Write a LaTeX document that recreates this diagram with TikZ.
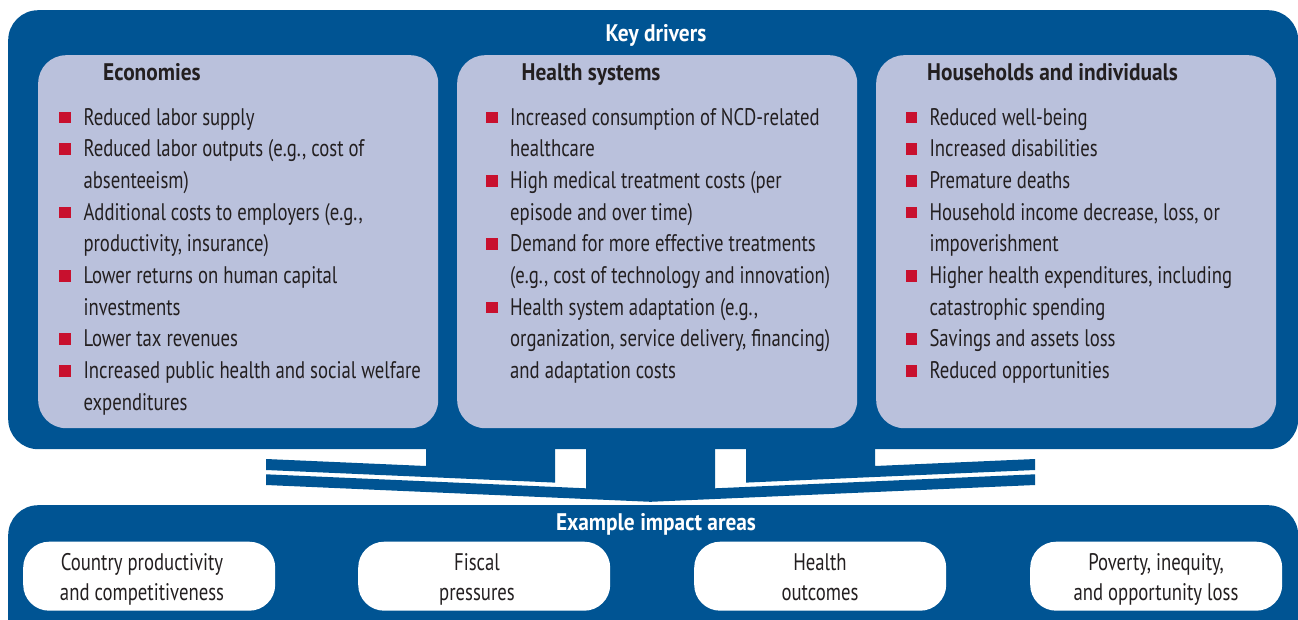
\documentclass[tikz,border=0pt]{standalone}
\usepackage{fontspec}
\setmainfont{PT Sans}[FakeStretch=0.78]
\newfontfamily\hdrfont{PT Sans}[FakeStretch=0.89]
\definecolor{kblue}{RGB}{0,84,147}
\definecolor{panel}{RGB}{186,193,220}
\definecolor{ink}{RGB}{35,31,32}
\definecolor{bred}{RGB}{200,16,46}
\begin{document}
\begin{tikzpicture}[x=1pt,y=-1pt,
  bigbox/.style={fill=kblue, rounded corners=30pt, inner sep=0, anchor=north west},
  panelbox/.style={fill=panel, rounded corners=28pt, inner sep=0, anchor=north west, minimum width=400pt, minimum height=373pt},
  impbox/.style={fill=white, rounded corners=26pt, inner sep=0, anchor=north west, minimum width=252pt, minimum height=69pt},
  txt/.style={anchor=base west, inner sep=0, text=ink, font=\fontsize{24}{30}\selectfont},
  hdr/.style={anchor=base west, inner sep=0, text=ink, font=\fontsize{24}{30}\selectfont\hdrfont\bfseries},
  ttl/.style={anchor=base, inner sep=0, text=white, font=\fontsize{24}{30}\selectfont\hdrfont\bfseries},
  imptxt/.style={anchor=base, inner sep=0, text=ink, font=\fontsize{24}{30}\selectfont},
  bul/.style={fill=bred, minimum size=11.7pt, inner sep=0}]
\useasboundingbox (0,0) rectangle (1298,619);
\clip (0,0) rectangle (1298,619);
% outer boxes
\node[bigbox, minimum width=1290pt, minimum height=439pt] (top) at (8,10) {};
\node[bigbox, minimum width=1290pt, minimum height=160pt] (bot) at (8,505) {};
% connector shape
\coordinate (c1) at (266,459);
\fill[kblue] (c1) -- (426,466) -- (426,445) -- (555,445) -- (555,482.6) -- (266,470) -- cycle;
\fill[kblue] (266,474.3) -- (586,488.3) -- (586,445) -- (715,445) -- (715,488.3) -- (1035,474.3)
  -- (1035,485) -- (650.5,501.8) -- (266,485) -- cycle;
\fill[kblue] (1035,459) -- (875,466) -- (875,445) -- (746,445) -- (746,482.6) -- (1035,470) -- cycle;
% titles
\node[ttl] (kd) at (656,41) {Key drivers};
\node[ttl] (eia) at (656,530) {Example impact areas};
% panels
\node[panelbox] (econ) at (38,55) {};
\node[panelbox] (hs) at (457,55) {};
\node[panelbox] (hh) at (876,55) {};
\node[hdr] (econT) at (103,80) {Economies};
\node[hdr] (hsT) at (521.5,80) {Health systems};
\node[hdr] (hhT) at (927,80) {Households and individuals};
% Economies
\foreach \t [count=\i from 0] in {{Reduced labor supply},{Reduced labor outputs (e.g., cost of},{absenteeism)},{Additional costs to employers (e.g.,},{productivity, insurance)},{Lower returns on human capital},{investments},{Lower tax revenues},{Increased public health and social welfare},{expenditures}}
  \node[txt] (e\i) at (83.3,{125+31.67*\i}) {\t};
\foreach \i in {0,1,3,5,7,8}
  \node[bul] (eb\i) at (64.8,{117.5+31.67*\i}) {};
% Health systems
\foreach \t [count=\i from 0] in {{Increased consumption of NCD-related},{healthcare},{High medical treatment costs (per},{episode and over time)},{Demand for more effective treatments},{(e.g., cost of technology and innovation)},{Health system adaptation (e.g.,},{organization, service delivery, financing)},{and adaptation costs}}
  \node[txt] (h\i) at (510,{125+31.67*\i}) {\t};
\foreach \i in {0,2,4,6}
  \node[bul] (hb\i) at (492,{117.5+31.67*\i}) {};
% Households
\foreach \t [count=\i from 0] in {{Reduced well-being},{Increased disabilities},{Premature deaths},{Household income decrease, loss, or},{impoverishment},{Higher health expenditures, including},{catastrophic spending},{Savings and assets loss},{Reduced opportunities}}
  \node[txt] (u\i) at (929.3,{125+31.67*\i}) {\t};
\foreach \i in {0,1,2,3,5,7,8}
  \node[bul] (ub\i) at (911.5,{117.5+31.67*\i}) {};
% impact boxes
\node[impbox] (i1) at (23,541.5) {};
\node[impbox] (i2) at (358,541.5) {};
\node[impbox] (i3) at (694,541.5) {};
\node[impbox] (i4) at (1030,541.5) {};
\node[imptxt] (i1a) at (142,570) {Country productivity};
\node[imptxt] (i1b) at (142,600) {and competitiveness};
\node[imptxt] (i2a) at (477,570) {Fiscal};
\node[imptxt] (i2b) at (477,600) {pressures};
\node[imptxt] (i3a) at (820,570) {Health};
\node[imptxt] (i3b) at (820,600) {outcomes};
\node[imptxt] (i4a) at (1156,570) {Poverty, inequity,};
\node[imptxt] (i4b) at (1156,600) {and opportunity loss};
\end{tikzpicture}
\end{document}
